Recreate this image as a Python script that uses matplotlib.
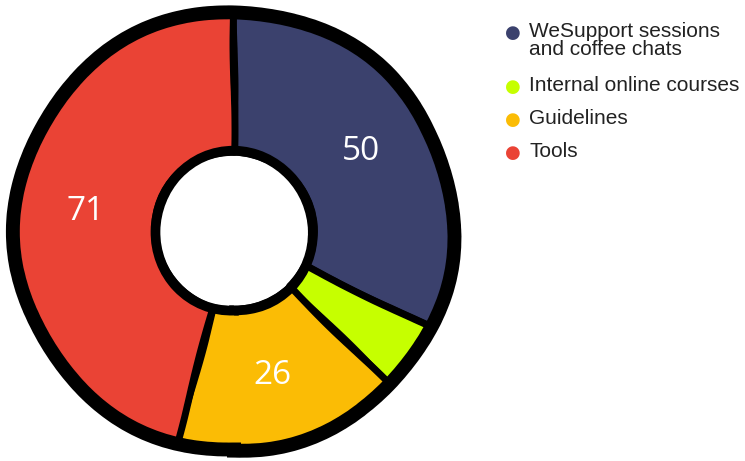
import matplotlib
matplotlib.use("Agg")
import matplotlib.pyplot as plt
from matplotlib.patches import Circle

categories = ["WeSupport sessions\nand coffee chats", "Internal online courses", "Guidelines", "Tools"]
values = [50, 8, 26, 71]
shown_labels = ["50", "", "26", "71"]
colors = ["#3b416d", "#c6ff00", "#fbbc05", "#ea4335"]

fig = plt.figure(figsize=(7.45, 4.61), dpi=100)
ax = fig.add_axes([4 / 745, 0, 460 / 745, 460 / 461])

R = 0.955
hole = 0.345
wedges, texts, autotexts = ax.pie(
    values, colors=colors, startangle=90, counterclock=False, radius=R,
    wedgeprops=dict(width=R - hole, edgecolor="black", linewidth=5, joinstyle="round"),
    autopct=lambda p: "", pctdistance=(R + hole) / 2 / R,
)
ax.set_xlim(-1, 1)
ax.set_ylim(-1, 1)
ax.set_aspect("equal")
ax.axis("off")

for w in wedges:
    w.set_sketch_params(scale=1.0, length=200, randomness=2)
for t, lab in zip(autotexts, shown_labels):
    t.set_text(lab)
    t.set_color("white")
    t.set_fontsize(24)
    t.set_family("Open Sans")

outer = Circle((0, 0), R, fill=False, edgecolor="black", linewidth=10)
outer.set_sketch_params(scale=1.5, length=250, randomness=2)
ax.add_patch(outer)
inner = Circle((0, 0), hole, fill=False, edgecolor="black", linewidth=7)
inner.set_sketch_params(scale=1.0, length=200, randomness=2)
ax.add_patch(inner)

# legend
rows_y = [33, 87, 120, 153]
for y, name, c in zip(rows_y, categories, colors):
    fig.text(513 / 745, 1 - y / 461, "\u25cf", color=c, fontsize=13,
             ha="center", va="center", family="DejaVu Sans")
    fig.text(529 / 745, 1 - (y - 11) / 461, name, color="#222222", fontsize=15,
             ha="left", va="top", family="Liberation Sans", linespacing=0.92)

fig.savefig("out.png", dpi=100)
